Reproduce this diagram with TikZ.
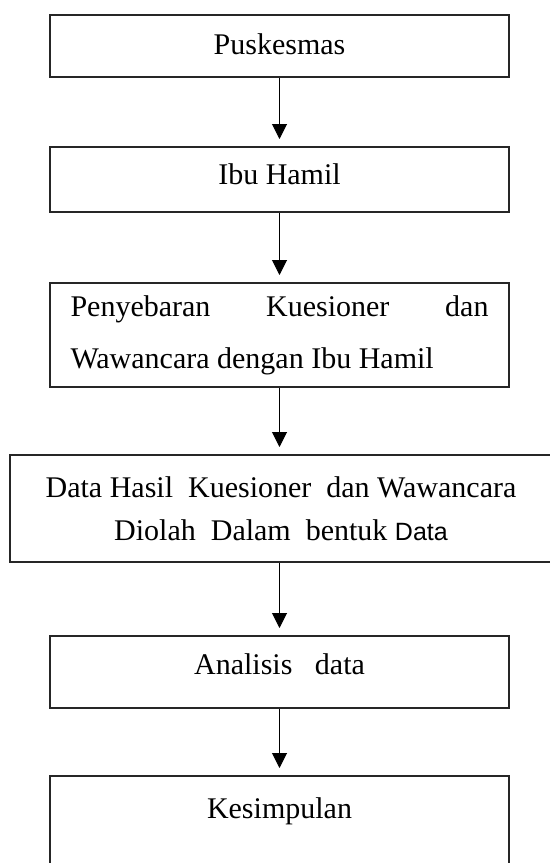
\documentclass[tikz,border=0pt]{standalone}
\usepackage{fontspec}
\setmainfont{Liberation Serif}
\setsansfont{Liberation Sans}
\usetikzlibrary{arrows.meta}

\tikzset{
  stepbox/.style={draw=black!85, line width=1pt, fill=white, inner sep=0pt, anchor=north,
    minimum width=229.5pt, font=\fontsize{15}{18}\selectfont},
  flow/.style={-{Triangle[width=7.5pt,length=7.5pt]}, line width=0.5pt, shorten >=3.5pt}
}

\begin{document}
\begin{tikzpicture}[x=0.5pt,y=-0.5pt]
  \useasboundingbox (0,0) rectangle (550,863);
  \clip (0,0) rectangle (550,863);
  % alur penelitian
  \node[stepbox, text height=19.5pt, text depth=11.5pt] (pusk) at (279.5,14) {Puskesmas};
  \node[stepbox, text height=18.5pt, text depth=14pt] (ibu) at (279.5,146) {Ibu Hamil};
  \node[stepbox, minimum height=52pt, text width=209pt, align=justify,
    font=\fontsize{15}{26}\selectfont] (sebar) at (279.5,282)
    {Penyebaran Kuesioner dan Wawancara dengan Ibu Hamil};
  \node[stepbox, minimum width=271.5pt, minimum height=53.5pt, align=center,
    font=\fontsize{15}{21.5}\selectfont] (olah) at (281,454)
    {Data Hasil\ \ Kuesioner\ \ dan Wawancara\\Diolah\ \ Dalam\ \ bentuk {\sffamily\fontsize{12.5}{21.5}\selectfont Data}};
  \node[stepbox, text height=19pt, text depth=17pt] (analisis) at (279.5,635) {Analisis\ \ \ data};
  \node[stepbox, text height=21pt, text depth=45pt] (simpul) at (279.5,775) {Kesimpulan};
  % panah
  \draw[flow] (pusk.south) -- (ibu.north);
  \draw[flow] (ibu.south) -- (sebar.north);
  \draw[flow] (sebar.south) -- (sebar.south |- olah.north);
  \draw[flow] (analisis.north |- olah.south) -- (analisis.north);
  \draw[flow] (analisis.south) -- (simpul.north);
\end{tikzpicture}
\end{document}
